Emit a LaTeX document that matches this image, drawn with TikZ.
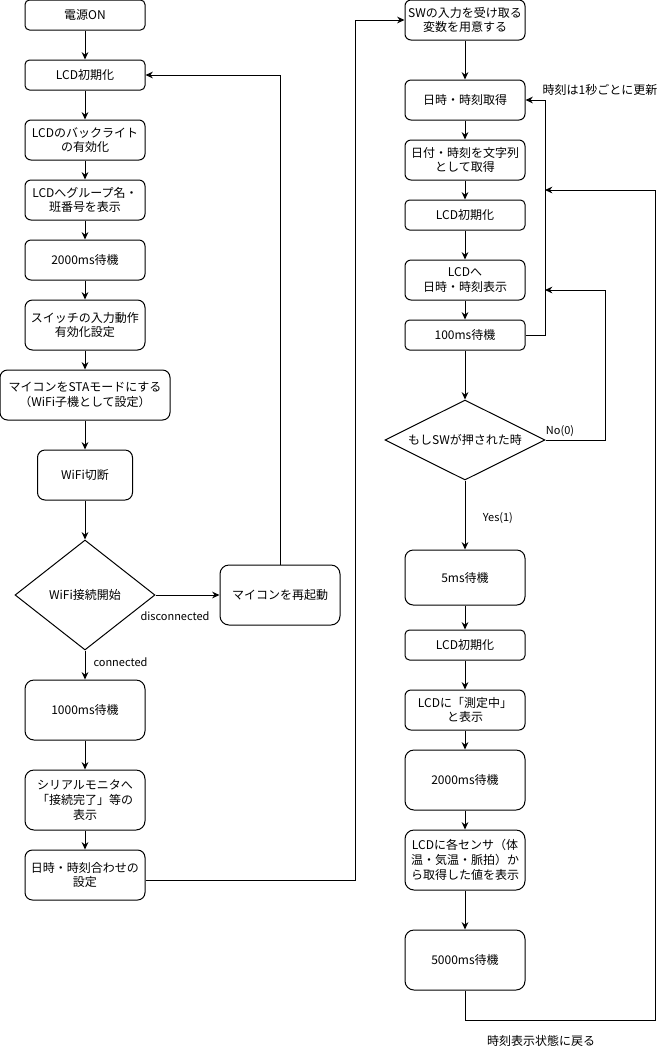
\documentclass[tikz,border=0pt]{standalone}
\usepackage{fontspec}
\setmainfont{Noto Sans CJK JP}
\usetikzlibrary{shapes.geometric,arrows.meta}
\tikzset{
  box/.style={draw, align=center, inner sep=1pt, minimum width=90pt},
  h/.style={minimum height=0.75pt*#1, rounded corners=0.1125pt*#1},
  dia/.style={draw, diamond, align=center, inner sep=0pt},
  arr/.style={-{Stealth[length=5.5pt,width=5pt]}},
  lbl/.style={font=\fontsize{8.25pt}{10pt}\selectfont, inner sep=0pt},
  note/.style={inner sep=0pt}
}
\begin{document}
\begin{tikzpicture}[x=0.75pt,y=-0.75pt,
  font=\fontsize{9pt}{11pt}\selectfont,
  line width=0.75pt]
\useasboundingbox (0,0) rectangle (667,1051);

% left column: start-up and WiFi connection
\node[box,h=30] (n1) at (85,15) {電源ON};
\node[box,h=30] (n2) at (85,75) {LCD初期化};
\node[box,h=40] (n3) at (85,140) {LCDのバックライト\\の有効化};
\node[box,h=40] (n4) at (85,200) {LCDへグループ名・\\班番号を表示};
\node[box,h=40] (n5) at (85,260) {2000ms待機};
\node[box,h=50] (n6) at (85,325) {スイッチの入力動作\\有効化設定};
\node[box,h=50,minimum width=127.5pt] (n7) at (85,395) {マイコンをSTAモードにする\\（WiFi子機として設定）};
\node[box,h=50,minimum width=71.25pt] (n8) at (85,475) {WiFi切断};
\node[dia,aspect=1.27,minimum width=105pt,minimum height=82.5pt] (d1) at (85,595) {WiFi接続開始};
\node[box,h=60] (r1) at (280,595) {マイコンを再起動};
\node[box,h=60] (n9) at (85,710) {1000ms待機};
\node[box,h=60] (n10) at (85,800) {シリアルモニタへ\\「接続完了」等の\\表示};
\node[box,h=50] (n11) at (85,875) {日時・時刻合わせの\\設定};

% right column: clock display and measurement
\node[box,h=40] (m1) at (465,20) {SWの入力を受け取る\\変数を用意する};
\node[box,h=40] (m2) at (465,100) {日時・時刻取得};
\node[box,h=40] (m3) at (465,160) {日付・時刻を文字列\\として取得};
\node[box,h=30] (m4) at (465,215) {LCD初期化};
\node[box,h=40] (m5) at (465,280) {LCDへ\\日時・時刻表示};
\node[box,h=30] (m6) at (465,335) {100ms待機};
\node[dia,aspect=2,minimum width=120pt,minimum height=60pt] (d2) at (465,440) {もしSWが押された時};
\node[box,h=55] (m7) at (465,577.5) {5ms待機};
\node[box,h=30] (m8) at (465,645) {LCD初期化};
\node[box,h=40] (m9) at (465,710) {LCDに「測定中」\\と表示};
\node[box,h=60] (m10) at (465,780) {2000ms待機};
\node[box,h=60] (m11) at (465,860) {LCDに各センサ（体\\温・気温・脈拍）か\\ら取得した値を表示};
\node[box,h=60] (m12) at (465,960) {5000ms待機};

% free texts
\node[note] (t1) at (600,90) {時刻は1秒ごとに更新};
\node[note] (t2) at (541,1041) {時刻表示状態に戻る};

% joins on the return line
\coordinate (j1) at (545,190);
\coordinate (j2) at (545,290);

% left column flow
\draw[arr] (n1) -- (n2);
\draw[arr] (n2) -- (n3);
\draw[arr] (n3) -- (n4);
\draw[arr] (n4) -- (n5);
\draw[arr] (n5) -- (n6);
\draw[arr] (n6) -- (n7);
\draw[arr] (n7) -- (n8);
\draw[arr] (n8) -- (d1);
\draw[arr] (d1) -- (n9) node[lbl, pos=0.42, right=6pt] (l1) {connected};
\draw[arr] (d1) -- (r1);
\node[lbl] (l2) at (175,616) {disconnected};
\draw[arr] (r1.north) |- (n2.east);
\draw[arr] (n9) -- (n10);
\draw[arr] (n10) -- (n11);
\draw[arr] ([yshift=-3.75pt]n11.east) -- (355,880) |- (m1.west);

% right column flow
\draw[arr] (m1) -- (m2);
\draw[arr] (m2) -- (m3);
\draw[arr] (m3) -- (m4);
\draw[arr] (m4) -- (m5);
\draw[arr] (m5) -- (m6);
\draw[arr] (m6) -- (d2);
\draw[arr] (m6.east) -| (545,100) -- (m2.east);
\draw[arr] (d2.east) -| (605,290) -- (j2);
\node[lbl] (l3) at (560,431) {No(0)};
\draw[arr] (d2) -- (m7) node[lbl, pos=0.55, right=13pt] (l4) {Yes(1)};
\draw[arr] (m7) -- (m8);
\draw[arr] (m8) -- (m9);
\draw[arr] (m9) -- (m10);
\draw[arr] (m10) -- (m11);
\draw[arr] (m11) -- (m12);
\draw[arr] (m12.south) |- (655,1020) |- (j1);
\end{tikzpicture}
\end{document}
